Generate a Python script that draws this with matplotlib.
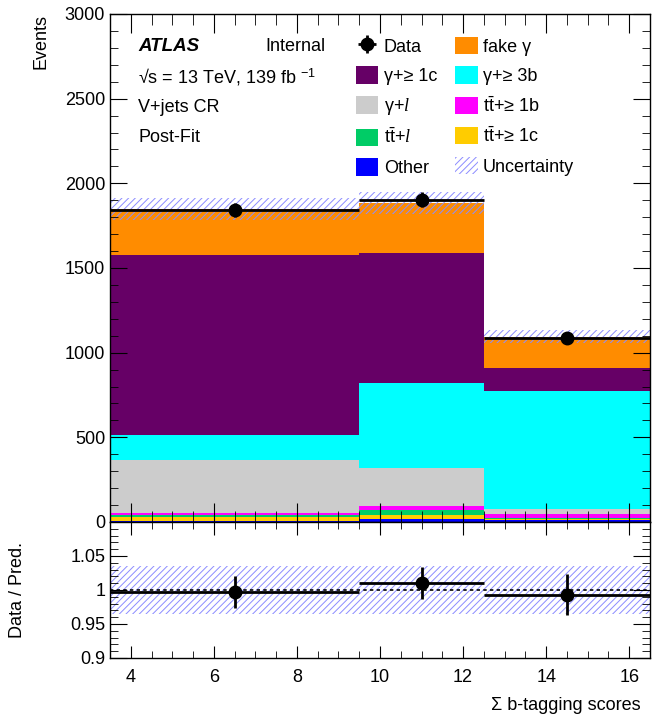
import numpy as np
import matplotlib
matplotlib.use("Agg")
import matplotlib.pyplot as plt
from matplotlib.ticker import MultipleLocator, FixedLocator, FixedFormatter

plt.rcParams['font.family'] = ['Liberation Sans', 'DejaVu Sans']
plt.rcParams['mathtext.fontset'] = 'custom'
plt.rcParams['mathtext.rm'] = 'Liberation Sans'
plt.rcParams['mathtext.it'] = 'Liberation Serif:italic'
plt.rcParams['hatch.linewidth'] = 0.7

# binning
bin_edges = [3.5, 9.5, 12.5, 16.5]
bin_centers = [6.5, 11.0, 14.5]

# stacked backgrounds, bottom -> top
proc_names = ["Other", r"$\mathrm{t\bar{t}}$+≥ 1c", r"$\mathrm{t\bar{t}}$+$l$",
              r"$\mathrm{t\bar{t}}$+≥ 1b", r"γ+$l$", "γ+≥ 3b",
              "γ+≥ 1c", "fake γ"]
proc_colors = ["#0000ff", "#ffcc00", "#00cc66", "#ff00ff", "#cccccc", "#00ffff",
               "#660066", "#ff8c00"]
other = [8, 20, 14]
tt_1c = [20, 24, 6]
tt_l = [14, 28, 2]
tt_1b = [10, 22, 28]
gam_l = [314, 227, 29]
gam_3b = [148, 502, 695]
gam_1c = [1063, 766, 138]
fake_gam = [270, 295, 183]
proc_vals = [other, tt_1c, tt_l, tt_1b, gam_l, gam_3b, gam_1c, fake_gam]

data = [1842, 1903, 1087]
data_err = [43, 44, 33]
rel_unc = [0.035, 0.035, 0.035]

edges = np.array(bin_edges)
widths = np.diff(edges)

fig = plt.figure(figsize=(6.72, 7.21), dpi=100)
ax = fig.add_axes([110/672, 1-522/721, 540/672, 508/721])
rax = fig.add_axes([110/672, 1-658/721, 540/672, 136/721], sharex=ax)

bottom = np.zeros(3)
handles = {}
for name, col, vals in zip(proc_names, proc_colors, proc_vals):
    b = ax.bar(edges[:-1], vals, width=widths, bottom=bottom, align='edge',
               color=col, linewidth=0, label=name)
    handles[name] = b
    bottom = bottom + np.array(vals)
total = bottom

unc = total * np.array(rel_unc)
hb = ax.bar(edges[:-1], 2*unc, width=widths, bottom=total-unc, align='edge',
            color='none', edgecolor='#8c8cff', linewidth=0, hatch='/////',
            label='Uncertainty')

xerr = widths / 2
eb = ax.errorbar(bin_centers, data, xerr=xerr, yerr=data_err, fmt='o', color='black',
                 ms=9, elinewidth=2, capsize=0, label='Data')

ax.set_xlim(3.5, 16.5)
ax.set_ylim(0, 3000)
ax.yaxis.set_major_locator(MultipleLocator(500))
ax.yaxis.set_minor_locator(MultipleLocator(100))
ax.xaxis.set_major_locator(MultipleLocator(2))
ax.xaxis.set_minor_locator(MultipleLocator(0.5))
ax.tick_params(axis='x', labelbottom=False)
ax.set_ylabel("Events", loc='top', fontsize=13)

# ratio panel
ratio = np.array(data) / total
ratio_err = np.array(data_err) / total
rax.bar(edges[:-1], 2*np.array(rel_unc), width=widths, bottom=1-np.array(rel_unc),
        align='edge', color='none', edgecolor='#8c8cff', linewidth=0, hatch='/////')
rax.axhline(1, color='black', ls=(0, (2, 2)), lw=1.2)
rax.errorbar(bin_centers, ratio, xerr=xerr, yerr=ratio_err, fmt='o', color='black',
             ms=9, elinewidth=2, capsize=0)
rax.set_ylim(0.9, 1.1)
rax.yaxis.set_major_locator(FixedLocator([0.9, 0.95, 1.0, 1.05]))
rax.yaxis.set_major_formatter(FixedFormatter(['0.9', '0.95', '1', '1.05']))
rax.yaxis.set_minor_locator(MultipleLocator(0.01))
rax.set_ylabel("Data / Pred.", fontsize=13)
rax.set_xlabel("Σ b-tagging scores", loc='right', fontsize=13)

for a in (ax, rax):
    a.tick_params(which='both', direction='in', top=True, right=True, labelsize=13)
    for s in a.spines.values():
        s.set_linewidth(1.0)
ax.tick_params(axis='x', which='major', length=14)
ax.tick_params(axis='x', which='minor', length=8)
ax.tick_params(axis='y', which='major', length=12)
ax.tick_params(axis='y', which='minor', length=6)
rax.tick_params(axis='x', which='major', length=9, pad=8)
rax.tick_params(axis='x', which='minor', length=5)
rax.tick_params(axis='y', which='major', length=12)
rax.tick_params(axis='y', which='minor', length=6)
ax.yaxis.set_label_coords(-0.112, 1.0)
rax.yaxis.set_label_coords(-0.155, 0.5)
rax.xaxis.set_label_coords(0.982, -0.29)

# labels
ax.text(0.052, 0.937, "ATLAS", transform=ax.transAxes, fontsize=13.5,
        fontweight='bold', fontstyle='italic', va='center')
ax.text(0.287, 0.937, "Internal", transform=ax.transAxes, fontsize=13, va='center')
ax.text(0.052, 0.876, r"√s = 13 TeV, 139 fb $^{-1}$", transform=ax.transAxes,
        fontsize=13, va='center')
ax.text(0.052, 0.815, "V+jets CR", transform=ax.transAxes, fontsize=13, va='center')
ax.text(0.052, 0.756, "Post-Fit", transform=ax.transAxes, fontsize=13, va='center')

leg_order = [eb, handles[proc_names[6]], handles[proc_names[4]], handles[proc_names[2]],
             handles[proc_names[0]], handles[proc_names[7]], handles[proc_names[5]],
             handles[proc_names[3]], handles[proc_names[1]], hb]
leg_labels = ['Data', proc_names[6], proc_names[4], proc_names[2], proc_names[0],
              proc_names[7], proc_names[5], proc_names[3], proc_names[1], 'Uncertainty']
ax.legend(leg_order, leg_labels, ncol=2, frameon=False, fontsize=13,
          loc='upper left', bbox_to_anchor=(0.455, 0.955), handlelength=1.25,
          handleheight=1.1, handletextpad=0.3, labelspacing=0.6, columnspacing=1.0,
          borderaxespad=0, borderpad=0)

fig.savefig("out.png", dpi=100)
